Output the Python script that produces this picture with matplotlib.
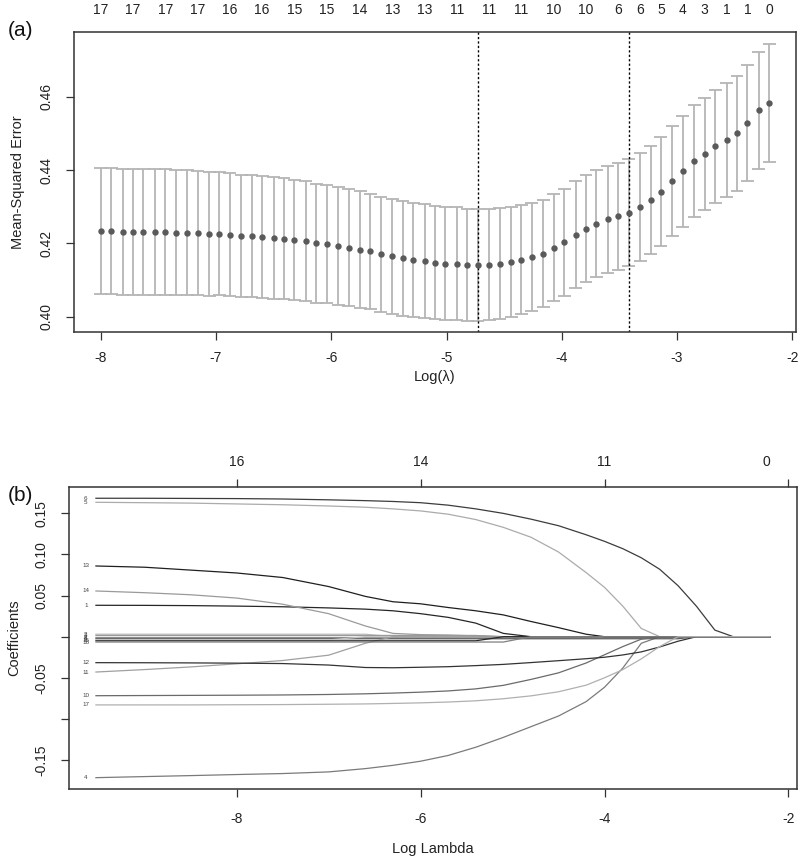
import numpy as np
import matplotlib
matplotlib.use("Agg")
import matplotlib.pyplot as plt
from matplotlib.transforms import blended_transform_factory, offset_copy

plt.rcParams['font.family'] = ['Liberation Sans', 'DejaVu Sans']

# ---------------- Panel (a): cross-validation curve ----------------
log_lambda = [-8.00, -7.91, -7.81, -7.72, -7.63, -7.53, -7.44, -7.35, -7.25, -7.16,
              -7.06, -6.97, -6.88, -6.78, -6.69, -6.60, -6.50, -6.41, -6.32, -6.22,
              -6.13, -6.04, -5.94, -5.85, -5.75, -5.66, -5.57, -5.47, -5.38, -5.29,
              -5.19, -5.10, -5.01, -4.91, -4.82, -4.73, -4.63, -4.54, -4.44, -4.35,
              -4.26, -4.16, -4.07, -3.98, -3.88, -3.79, -3.70, -3.60, -3.51, -3.42,
              -3.32, -3.23, -3.14, -3.04, -2.95, -2.85, -2.76, -2.67, -2.57, -2.48,
              -2.39, -2.29, -2.20]

mse = [0.4234, 0.4234, 0.4231, 0.4231, 0.4231, 0.4231, 0.4231, 0.4229, 0.4229, 0.4229,
       0.4226, 0.4226, 0.4223, 0.4220, 0.4220, 0.4218, 0.4215, 0.4213, 0.4209, 0.4206,
       0.4200, 0.4198, 0.4193, 0.4188, 0.4183, 0.4178, 0.4170, 0.4165, 0.4159, 0.4155,
       0.4152, 0.4147, 0.4145, 0.4145, 0.4142, 0.4142, 0.4142, 0.4145, 0.4149, 0.4155,
       0.4162, 0.4172, 0.4188, 0.4203, 0.4223, 0.4240, 0.4253, 0.4266, 0.4274, 0.4284,
       0.4300, 0.4319, 0.4341, 0.4370, 0.4397, 0.4425, 0.4445, 0.4465, 0.4482, 0.4501,
       0.4529, 0.4563, 0.4584]

mse_se = [0.0171, 0.0171, 0.0171, 0.0171, 0.0171, 0.0171, 0.0171, 0.0170, 0.0170, 0.0169,
          0.0169, 0.0168, 0.0168, 0.0167, 0.0167, 0.0166, 0.0166, 0.0165, 0.0165, 0.0164,
          0.0163, 0.0162, 0.0161, 0.0160, 0.0159, 0.0158, 0.0157, 0.0157, 0.0156, 0.0155,
          0.0155, 0.0154, 0.0154, 0.0153, 0.0153, 0.0153, 0.0152, 0.0151, 0.0150, 0.0149,
          0.0148, 0.0147, 0.0146, 0.0146, 0.0146, 0.0146, 0.0146, 0.0146, 0.0146, 0.0146,
          0.0147, 0.0148, 0.0149, 0.0150, 0.0151, 0.0152, 0.0153, 0.0155, 0.0156, 0.0157,
          0.0158, 0.0160, 0.0161]

nzero = [17, 17, 17, 17, 17, 17, 17, 17, 17, 17, 17, 17, 16, 16, 16, 16, 16, 16, 15, 15,
         15, 15, 15, 15, 14, 14, 13, 13, 13, 13, 13, 13, 12, 11, 11, 11, 11, 11, 11, 11,
         11, 11, 10, 10, 10, 10, 8, 7, 6, 6, 6, 6, 5, 5, 4, 4, 3, 2, 1, 1, 1, 1, 0]

# indices whose count label is printed on the top axis (others overlap)
shown_idx = [0, 3, 6, 9, 12, 15, 18, 21, 24, 27, 30, 33, 36, 39, 42, 45, 48,
             50, 52, 54, 56, 58, 60, 62]

idx_min = 35   # lambda.min
idx_1se = 49   # lambda.1se

# ---------------- Panel (b): coefficient paths ----------------
path_x = [-9.53, -9.0, -8.5, -8.0, -7.5, -7.0, -6.6, -6.3, -6.0, -5.7, -5.4, -5.1,
          -4.8, -4.5, -4.2, -4.0, -3.8, -3.6, -3.4, -3.2, -3.0, -2.8, -2.6, -2.2]

coef_1 = [0.0382, 0.0381, 0.0378, 0.0372, 0.0364, 0.0350, 0.0335, 0.0315, 0.0280, 0.0235, 0.0165, 0.0040,
          0, 0, 0, 0, 0, 0, 0, 0, 0, 0, 0, 0]
coef_2 = [0.0030, 0.0030, 0.0030, 0.0030, 0.0030, 0.0030, 0.0030, 0, 0, 0, 0, 0,
          0, 0, 0, 0, 0, 0, 0, 0, 0, 0, 0, 0]
coef_3 = [0.0015, 0.0015, 0.0015, 0.0015, 0.0015, 0.0015, 0.0015, 0.0015, 0.0015, 0.0015, 0.0015, 0,
          0, 0, 0, 0, 0, 0, 0, 0, 0, 0, 0, 0]
coef_4 = [-0.1715, -0.1702, -0.1690, -0.1677, -0.1665, -0.1645, -0.1605, -0.1565, -0.1515, -0.1445, -0.1345, -0.1225,
          -0.1095, -0.0965, -0.0790, -0.0615, -0.0380, -0.0080, 0, 0, 0, 0, 0, 0]
coef_5 = [0.1635, 0.1630, 0.1625, 0.1615, 0.1605, 0.1590, 0.1575, 0.1555, 0.1530, 0.1490, 0.1425, 0.1330,
          0.1210, 0.1030, 0.0780, 0.0600, 0.0370, 0.0100, 0, 0, 0, 0, 0, 0]
coef_6 = [0.1684, 0.1684, 0.1682, 0.1680, 0.1675, 0.1665, 0.1655, 0.1645, 0.1630, 0.1600, 0.1555, 0.1500,
          0.1430, 0.1350, 0.1240, 0.1160, 0.1070, 0.0960, 0.0820, 0.0620, 0.0370, 0.0080, 0, 0]
coef_7 = [-0.0010, -0.0010, -0.0010, -0.0010, -0.0010, -0.0010, -0.0010, -0.0010, -0.0010, -0.0010, -0.0010, -0.0010,
          -0.0010, -0.0010, -0.0010, 0, 0, 0, 0, 0, 0, 0, 0, 0]
coef_8 = [-0.0025, -0.0025, -0.0025, -0.0025, -0.0025, -0.0025, -0.0025, -0.0025, -0.0025, -0.0025, -0.0025, -0.0025,
          -0.0025, -0.0025, -0.0025, -0.0025, -0.0025, -0.0025, -0.0025, -0.0025, 0, 0, 0, 0]
coef_9 = [-0.0040, -0.0040, -0.0040, -0.0040, -0.0040, -0.0040, 0, 0, 0, 0, 0, 0,
          0, 0, 0, 0, 0, 0, 0, 0, 0, 0, 0, 0]
coef_10 = [-0.0718, -0.0716, -0.0714, -0.0712, -0.0709, -0.0703, -0.0695, -0.0686, -0.0675, -0.0660, -0.0635, -0.0592,
           -0.0520, -0.0440, -0.0320, -0.0220, -0.0120, -0.0030, 0, 0, 0, 0, 0, 0]
coef_11 = [-0.0430, -0.0400, -0.0368, -0.0330, -0.0290, -0.0225, -0.0080, 0, 0, 0, 0, 0,
           0, 0, 0, 0, 0, 0, 0, 0, 0, 0, 0, 0]
coef_12 = [-0.0316, -0.0317, -0.0319, -0.0322, -0.0327, -0.0345, -0.0375, -0.0378, -0.0372, -0.0365, -0.0352, -0.0337,
           -0.0315, -0.0292, -0.0268, -0.0250, -0.0222, -0.0185, -0.0125, -0.0055, 0, 0, 0, 0]
coef_13 = [0.0860, 0.0845, 0.0810, 0.0775, 0.0720, 0.0610, 0.0490, 0.0425, 0.0400, 0.0355, 0.0315, 0.0265,
           0.0185, 0.0110, 0.0030, 0, 0, 0, 0, 0, 0, 0, 0, 0]
coef_14 = [0.0556, 0.0535, 0.0510, 0.0470, 0.0395, 0.0280, 0.0130, 0.0040, 0.0025, 0.0020, 0.0010, 0,
           0, 0, 0, 0, 0, 0, 0, 0, 0, 0, 0, 0]
coef_15 = [-0.0050, -0.0050, -0.0050, -0.0050, -0.0050, -0.0050, -0.0050, -0.0050, -0.0050, -0.0050, -0.0050, 0,
           0, 0, 0, 0, 0, 0, 0, 0, 0, 0, 0, 0]
coef_16 = [-0.0065, -0.0065, -0.0065, -0.0065, -0.0065, -0.0065, -0.0065, -0.0065, -0.0065, -0.0065, -0.0065, -0.0065,
           0, 0, 0, 0, 0, 0, 0, 0, 0, 0, 0, 0]
coef_17 = [-0.0830, -0.0830, -0.0830, -0.0828, -0.0826, -0.0822, -0.0818, -0.0812, -0.0805, -0.0795, -0.0780, -0.0755,
           -0.0720, -0.0670, -0.0590, -0.0500, -0.0400, -0.0270, -0.0120, 0, 0, 0, 0, 0]

top_df_ticks = [-8, -6, -4, -2]
top_df_label_x = [-8, -6, -4, -2.24]
top_df_labels = ['16', '14', '11', '0']

coefs = {1: coef_1, 2: coef_2, 3: coef_3, 4: coef_4, 5: coef_5, 6: coef_6, 7: coef_7,
         8: coef_8, 9: coef_9, 10: coef_10, 11: coef_11, 12: coef_12, 13: coef_13,
         14: coef_14, 15: coef_15, 16: coef_16, 17: coef_17}
line_colors = {1: '#262626', 2: '#bdbdbd', 3: '#9a9a9a', 4: '#7a7a7a', 5: '#ababab',
               6: '#3c3c3c', 7: '#8c8c8c', 8: '#5a5a5a', 9: '#c4c4c4', 10: '#6a6a6a',
               11: '#a0a0a0', 12: '#333333', 13: '#1f1f1f', 14: '#9a9a9a', 15: '#2a2a2a',
               16: '#7f7f7f', 17: '#b0b0b0'}

# ---------------- Figure ----------------
W, H = 800, 861
fig = plt.figure(figsize=(W / 100, H / 100), dpi=100)
axis_col = '#333333'

def style_axes(ax):
    for s in ax.spines.values():
        s.set_color(axis_col)
        s.set_linewidth(1.1)
    ax.tick_params(direction='out', length=5.5, width=0.9, colors=axis_col,
                   labelcolor='#222222', labelsize=10)

# ---- (a)
ax1 = fig.add_axes([74 / W, 1 - 332 / H, 722 / W, 300 / H])
x = np.array(log_lambda)
m = np.array(mse)
se = np.array(mse_se)
hi, lo = m + se, m - se
bar_col = '#b5b5b5'
ax1.vlines(x, lo, hi, color=bar_col, lw=1.3, zorder=1)
ax1.hlines(hi, x - 0.056, x + 0.056, color=bar_col, lw=1.3, zorder=1)
ax1.hlines(lo, x - 0.056, x + 0.056, color=bar_col, lw=1.3, zorder=1)
ax1.plot(x, m, 'o', color='#5a5a5a', ms=4.6, mec='none', zorder=3)
ax1.axvline(x[idx_min], color='black', lw=1.0, ls=(0, (1.6, 1.6)), zorder=2)
ax1.axvline(x[idx_1se], color='black', lw=1.0, ls=(0, (1.6, 1.6)), zorder=2)
ax1.set_xlim(-8.232, -1.968)
ax1.set_ylim(0.3958, 0.4777)
style_axes(ax1)
ax1.set_xticks([-8, -7, -6, -5, -4, -3, -2])
ax1.set_xticklabels(['-8', '-7', '-6', '-5', '-4', '-3', '-2'])
ax1.set_yticks([0.40, 0.42, 0.44, 0.46])
ax1.set_yticklabels(['0.40', '0.42', '0.44', '0.46'], rotation=90, va='center')
ax1.tick_params(axis='x', pad=8)
ax1.tick_params(axis='y', pad=9)
ax1.set_xlabel('Log(λ)', fontsize=10.5, color='#222222')
ax1.xaxis.set_label_coords(0.5, -0.125)
ax1.set_ylabel('Mean-Squared Error', fontsize=10.5, color='#222222')
ax1.yaxis.set_label_coords(-0.068, 0.5)

sec1 = ax1.secondary_xaxis('top')
sec1.set_xticks([x[i] for i in shown_idx])
sec1.set_xticklabels([str(nzero[i]) for i in shown_idx])
sec1.tick_params(length=0, pad=10.8, labelsize=10, labelcolor='#222222')
sec1.spines['top'].set_visible(False)

fig.text(8 / W, 1 - 30 / H, '(a)', fontsize=15, va='center', ha='left', color='#111111')

# ---- (b)
ax2 = fig.add_axes([69 / W, 1 - 789 / H, 728 / W, 302 / H])
px = np.array(path_x)
for k in sorted(coefs):
    ax2.plot(px, coefs[k], color=line_colors[k], lw=0.9, solid_joinstyle='round')
for k in sorted(coefs):
    ax2.text(-9.64, coefs[k][0], str(k), fontsize=4.5, color='#444444',
             ha='center', va='center')
ax2.set_xlim(-9.823, -1.907)
ax2.set_ylim(-0.1853, 0.1821)
style_axes(ax2)
ax2.set_xticks([-8, -6, -4, -2])
ax2.set_xticklabels(['-8', '-6', '-4', '-2'])
ax2.set_yticks([-0.15, -0.10, -0.05, 0.0, 0.05, 0.10, 0.15])
ax2.set_yticklabels(['-0.15', '', '-0.05', '', '0.05', '0.10', '0.15'], rotation=90, va='center')
ax2.tick_params(axis='x', pad=11)
ax2.tick_params(axis='y', pad=9)
ax2.set_xlabel('Log Lambda', fontsize=10.5, color='#222222')
ax2.xaxis.set_label_coords(0.5, -0.175)
ax2.set_ylabel('Coefficients', fontsize=10.5, color='#222222')
ax2.yaxis.set_label_coords(-0.065, 0.5)

sec2 = ax2.secondary_xaxis('top')
sec2.set_xticks(top_df_ticks)
sec2.set_xticklabels([''] * len(top_df_ticks))
sec2.tick_params(direction='out', length=5.5, width=0.9, colors=axis_col, pad=7)
sec2.spines['top'].set_visible(False)
top_tr = offset_copy(blended_transform_factory(ax2.transData, ax2.transAxes),
                     fig=fig, x=0, y=25, units='dots')
for xl, lab in zip(top_df_label_x, top_df_labels):
    ax2.text(xl, 1.0, lab, transform=top_tr, fontsize=10, color='#222222',
             ha='center', va='center')

fig.text(8 / W, 1 - 495 / H, '(b)', fontsize=15, va='center', ha='left', color='#111111')

fig.savefig('out.png', dpi=100)
